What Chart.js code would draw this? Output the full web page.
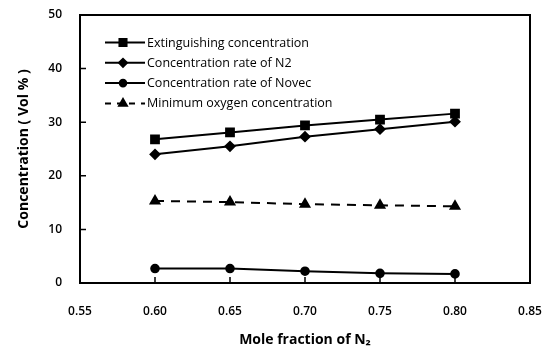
<!DOCTYPE html>
<html>
<head>
<meta charset="utf-8">
<script src="https://cdn.jsdelivr.net/npm/chart.js@4"></script>
<style>
  html, body { margin: 0; padding: 0; background: #fff; }
  #wrap { width: 553px; height: 350px; }
</style>
</head>
<body>
<div id="wrap"><canvas id="chart" width="553" height="350"></canvas></div>
<script>
const moleFractions = [0.60, 0.65, 0.70, 0.75, 0.80];
const extinguishing = [26.8, 28.1, 29.4, 30.5, 31.6];
const rateN2 = [24.0, 25.5, 27.3, 28.7, 30.1];
const rateNovec = [2.7, 2.7, 2.2, 1.8, 1.7];
const minOxygen = [15.3, 15.1, 14.7, 14.5, 14.3];
const xTicks = [0.55, 0.60, 0.65, 0.70, 0.75, 0.80, 0.85];
const yTicks = [0, 10, 20, 30, 40, 50];

const ctx = document.getElementById('chart').getContext('2d');

function pts(ys) {
    return moleFractions.map((x, i) => ({ x: x, y: ys[i] }));
}

// legend drawn inside the plot, top left
const insideLegend = {
    id: 'insideLegend',
    afterDraw(chart) {
        const c = chart.ctx;
        const area = chart.chartArea;
        c.save();
        chart.data.datasets.forEach((ds, i) => {
            const y = area.top + 27.5 + i * 20.3;
            const x0 = area.left + 25, x1 = area.left + 65;
            c.strokeStyle = '#000';
            c.lineWidth = 2;
            c.setLineDash(ds.borderDash ? [6, 6] : []);
            c.beginPath();
            c.moveTo(x0, y);
            c.lineTo(x1, y);
            c.stroke();
            c.setLineDash([]);
            c.fillStyle = '#000';
            c.strokeStyle = '#000';
            Chart.helpers.drawPoint(c, {
                pointStyle: ds.pointStyle,
                radius: ds.pointRadius - 0.5,
                borderWidth: 1
            }, area.left + 43, y);
            c.font = '12.5px "Open Sans"';
            c.textBaseline = 'middle';
            c.textAlign = 'left';
            c.fillText(ds.label, x1 + 2, y + 0.5);
        });
        c.restore();
    }
};

// frame and inward tick marks
const frameTicks = {
    id: 'frameTicks',
    afterDatasetsDraw(chart) {
        const c = chart.ctx;
        const a = chart.chartArea;
        const xs = chart.scales.x, ys = chart.scales.y;
        c.save();
        c.strokeStyle = '#000';
        c.lineWidth = 2;
        c.strokeRect(a.left, a.top, a.right - a.left, a.bottom - a.top);
        c.lineWidth = 1.5;
        c.beginPath();
        xTicks.slice(1, -1).forEach(v => {
            const px = xs.getPixelForValue(v);
            c.moveTo(px, a.bottom);
            c.lineTo(px, a.bottom - 6);
        });
        yTicks.slice(1, -1).forEach(v => {
            const py = ys.getPixelForValue(v);
            c.moveTo(a.left, py);
            c.lineTo(a.left + 6, py);
        });
        c.stroke();
        c.restore();
    }
};

const common = {
    borderColor: '#000',
    backgroundColor: '#000',
    pointBackgroundColor: '#000',
    pointBorderColor: '#000',
    borderWidth: 2,
    showLine: true,
    tension: 0
};

new Chart(ctx, {
    type: 'scatter',
    data: {
        datasets: [
            Object.assign({}, common, { label: 'Extinguishing concentration', data: pts(extinguishing), pointStyle: 'rect', pointRadius: 5.5 }),
            Object.assign({}, common, { label: 'Concentration rate of N2', data: pts(rateN2), pointStyle: 'rectRot', pointRadius: 4.5 }),
            Object.assign({}, common, { label: 'Concentration rate of Novec', data: pts(rateNovec), pointStyle: 'circle', pointRadius: 3.8 }),
            Object.assign({}, common, { label: 'Minimum oxygen concentration', data: pts(minOxygen), pointStyle: 'triangle', pointRadius: 5, borderDash: [9, 7] })
        ]
    },
    options: {
        responsive: false,
        animation: false,
        layout: { padding: { top: 15, right: 23, left: 0, bottom: 0 } },
        plugins: {
            legend: { display: false },
            tooltip: { enabled: false }
        },
        scales: {
            x: {
                type: 'linear',
                min: 0.55,
                max: 0.85,
                afterBuildTicks(scale) { scale.ticks = xTicks.map(v => ({ value: v })); },
                afterFit(scale) {
                    scale.height = 67;
                    scale.paddingLeft = 0;
                    scale.paddingRight = 0;
                },
                grid: { display: false, drawTicks: false },
                border: { display: false },
                ticks: {
                    color: '#000',
                    font: { family: 'Open Sans', size: 12, weight: '600' },
                    padding: 21,
                    callback: v => Number(v).toFixed(2)
                },
                title: {
                    display: true,
                    text: 'Mole fraction of N\u2082',
                    color: '#000',
                    font: { family: 'Open Sans', size: 14, weight: 'bold' },
                    padding: { top: 4, bottom: 2 }
                }
            },
            y: {
                min: 0,
                max: 50,
                afterBuildTicks(scale) { scale.ticks = yTicks.map(v => ({ value: v })); },
                afterFit(scale) {
                    scale.width = 80;
                    scale.paddingTop = 0;
                    scale.paddingBottom = 0;
                },
                grid: { display: false, drawTicks: false },
                border: { display: false },
                ticks: {
                    color: '#000',
                    font: { family: 'Open Sans', size: 12, weight: '600' },
                    padding: 18
                },
                title: {
                    display: true,
                    text: 'Concentration ( Vol % )',
                    color: '#000',
                    font: { family: 'Open Sans', size: 14, weight: 'bold' },
                    padding: { top: 16, bottom: 0 }
                }
            }
        }
    },
    plugins: [frameTicks, insideLegend]
});
</script>
</body>
</html>
